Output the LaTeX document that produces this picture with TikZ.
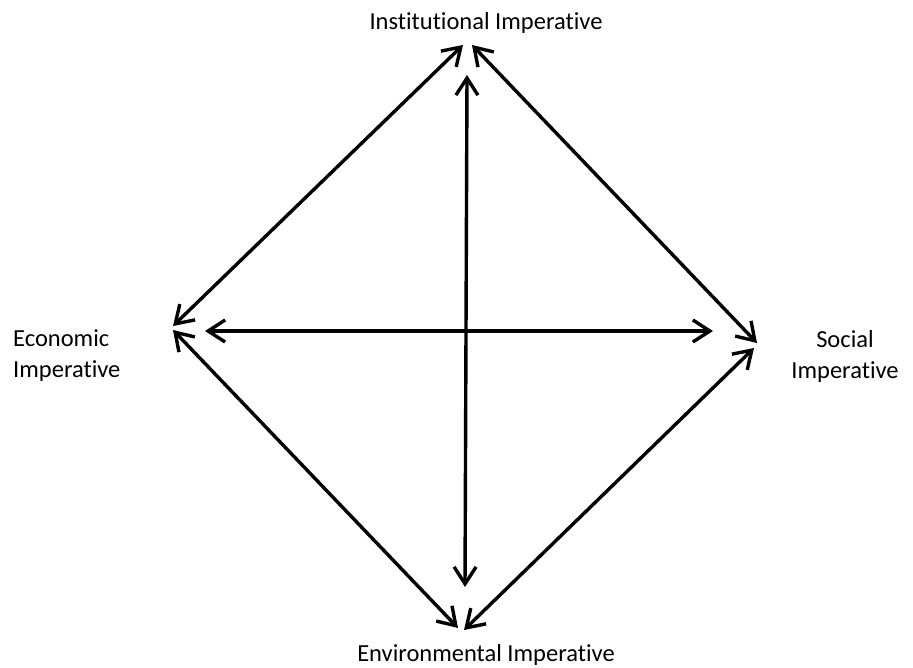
\documentclass[tikz,border=0pt]{standalone}
\usepackage{fontspec}
\setmainfont{Carlito}[Ligatures={NoCommon}]
\usetikzlibrary{arrows.meta}
\begin{document}
\begin{tikzpicture}[x=1pt,y=-1pt,
  lbl/.style={font=\fontsize{24.5}{31}\selectfont, inner sep=0pt},
  link/.style={line width=3.4pt, line cap=round, {Straight Barb[length=17pt,width=22pt,line width=3.4pt]}-{Straight Barb[length=17pt,width=22pt,line width=3.4pt]}}]
\useasboundingbox (0,0) rectangle (913,667);
\node[lbl] (inst) at (486,23) {Institutional Imperative};
\node[lbl] (env) at (486,655) {Environmental Imperative};
\node[lbl, anchor=west, align=left] (econ) at (13,356) {Economic\\Imperative};
\node[lbl, align=center] (soc) at (845,356) {Social\\Imperative};
\coordinate (eI) at (173,326);
\coordinate (iE) at (463,45);
\coordinate (iS) at (472,45);
\coordinate (sI) at (757,343);
\coordinate (eE) at (173,330);
\coordinate (nE) at (458,628);
\coordinate (nS) at (464,630);
\coordinate (sN) at (754,348);
\coordinate (hL) at (205,331);
\coordinate (hR) at (713,331);
\coordinate (vT) at (467,75);
\coordinate (vB) at (465,587);
\draw[link] (eI) -- (iE);
\draw[link] (iS) -- (sI);
\draw[link] (eE) -- (nE);
\draw[link] (nS) -- (sN);
\draw[link] (hL) -- (hR);
\draw[link] (vT) -- (vB);
\end{tikzpicture}
\end{document}
